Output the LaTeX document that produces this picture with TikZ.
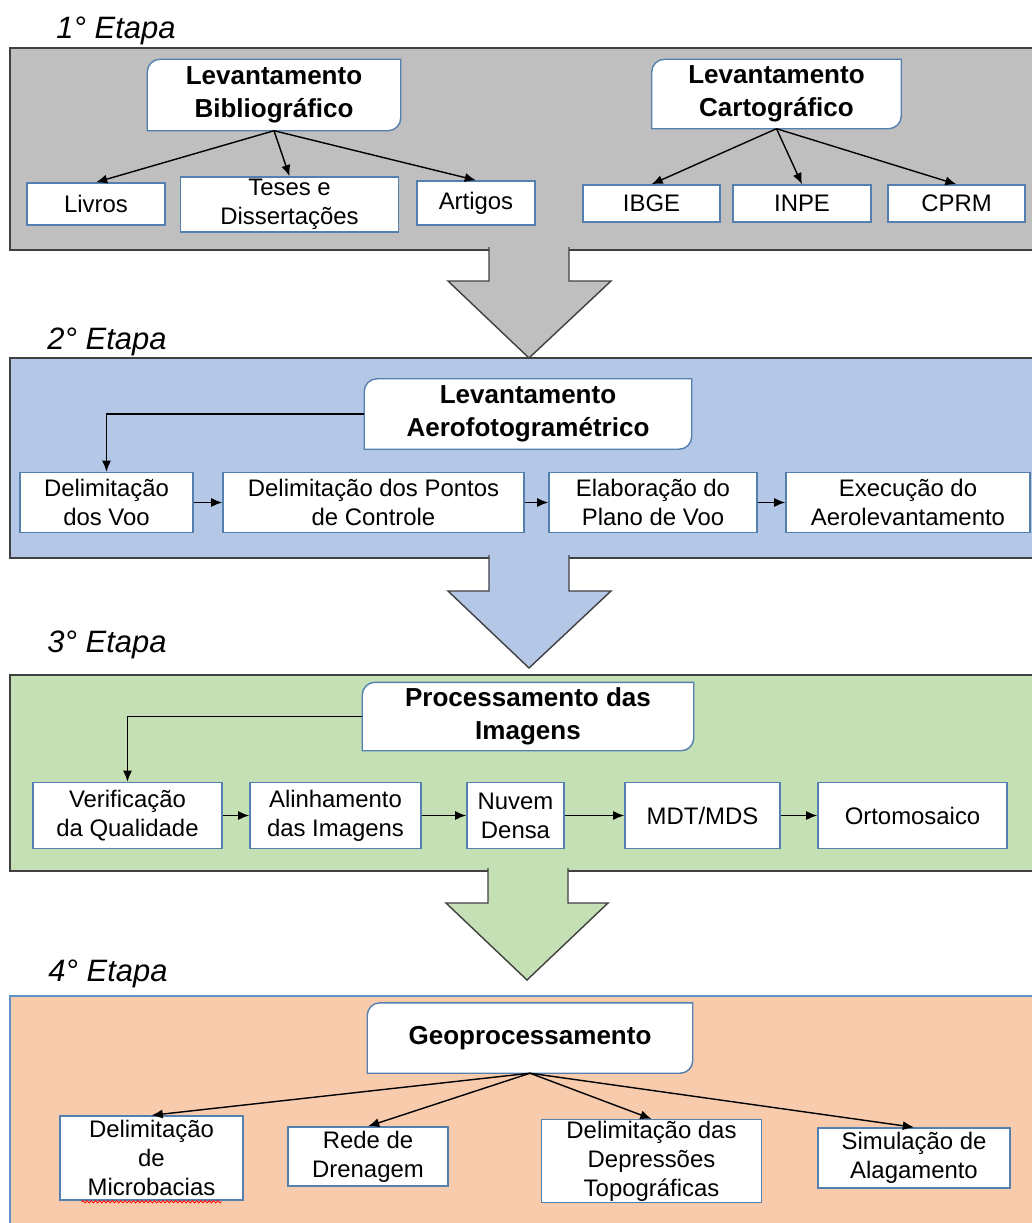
\documentclass[tikz,border=0pt]{standalone}
\usepackage{fontspec}
\setmainfont{Liberation Sans}
\usetikzlibrary{arrows.meta,positioning,backgrounds,calc,decorations.pathmorphing}

\definecolor{grayfill}{RGB}{191,191,191}
\definecolor{bluefill}{RGB}{180,199,231}
\definecolor{greenfill}{RGB}{197,224,180}
\definecolor{orangefill}{RGB}{248,203,173}
\definecolor{panelline}{RGB}{64,64,64}
\definecolor{orangeline}{RGB}{96,146,200}
\definecolor{boxline}{RGB}{84,128,176}

\tikzset{
  leaf/.style={draw=boxline,line width=1pt,fill=white,align=center,inner sep=1pt,
    font=\fontsize{17}{20.5}\selectfont},
  title/.style={align=center,inner sep=1pt,font=\fontsize{18.5}{23.5}\selectfont\bfseries},
  sz/.style 2 args={minimum width=#1cm,minimum height=#2cm},
  stage/.style={font=\fontsize{22}{26}\selectfont\itshape},
  panel/.style={draw=panelline,line width=1.4pt},
  blockarrow/.style={draw=panelline,line width=1pt},
  titleline/.style={draw=boxline,line width=1pt,fill=white},
  spell/.style={red,line width=0.6pt,decorate,decoration={snake,amplitude=0.8pt,segment length=3pt}}
}

\begin{document}
\begin{tikzpicture}[x=0.025cm,y=-0.025cm,>={Latex[length=8pt,width=6.5pt]},line width=1pt]
\useasboundingbox (0,0) rectangle (1032,1223);

% stages and big arrows
\begin{scope}[on background layer]
\filldraw[panel,fill=grayfill]   (10,48) rectangle (1045,250);
\filldraw[blockarrow,fill=grayfill] (489,247) -- (489,281) -- (448,281) -- (529,358) -- (611,281) -- (569,281) -- (569,247);
\filldraw[panel,fill=bluefill]   (10,358) rectangle (1045,558);
\filldraw[blockarrow,fill=bluefill] (489,555) -- (489,591) -- (448,591) -- (529,668) -- (611,591) -- (569,591) -- (569,555);
\filldraw[panel,fill=greenfill]  (10,675) rectangle (1045,871);
\filldraw[blockarrow,fill=greenfill] (488,868) -- (488,903) -- (446,903) -- (527,980) -- (608,903) -- (568,903) -- (568,868);
\filldraw[panel,draw=orangeline,fill=orangefill] (10,996) rectangle (1045,1240);
\end{scope}

\node[stage] (e1) at (116,31)  {1° Etapa};
\node[stage] (e2) at (107,342) {2° Etapa};
\node[stage] (e3) at (107,645) {3° Etapa};
\node[stage] (e4) at (108,974) {4° Etapa};

% 1a etapa
\node[title,sz={6.3}{1.75}]   (bib)   at (274,95)    {Levantamento\\Bibliográfico};
\node[title,sz={6.2}{1.7}]    (carto) at (776.5,94)  {Levantamento\\Cartográfico};
\node[leaf,sz={3.45}{1.05}]   (livros)  at (96,204)    {Livros};
\node[leaf,sz={5.45}{1.375}]  (teses)   at (289.5,204.5) {Teses e\\Dissertações};
\node[leaf,sz={2.95}{1.1}]    (artigos) at (476,203)   {Artigos};
\node[leaf,sz={3.425}{0.925}] (ibge)    at (651.5,203.5) {IBGE};
\node[leaf,sz={3.45}{0.925}]  (inpe)    at (802,203.5) {INPE};
\node[leaf,sz={3.425}{0.925}] (cprm)    at (956.5,203.5) {CPRM};

\path[->] (bib.south) edge (livros.north)
edge (teses.north)
edge (artigos.north)
(carto.south) edge (ibge.north)
edge (inpe.north)
edge (cprm.north);

% 2a etapa
\node[title,sz={8.15}{1.725}] (aero)   at (528,414)   {Levantamento\\Aerofotogramétrico};
\node[leaf,sz={4.325}{1.5}]   (voo)    at (106.5,502.5) {Delimitação\\dos Voo};
\node[leaf,sz={7.525}{1.5}]   (pontos) at (373.5,502.5) {Delimitação dos Pontos\\de Controle};
\node[leaf,sz={5.2}{1.5}]     (plano)  at (653,502.5) {Elaboração do\\Plano de Voo};
\node[leaf,sz={6.1}{1.5}]     (exec)   at (908,502.5) {Execução do\\Aerolevantamento};

\draw[->] (aero.west) -| (voo.north);
\path[->] (voo) edge (pontos)
(pontos) edge (plano)
(plano) edge (exec);

% 3a etapa
\node[title,sz={8.25}{1.675}] (proc)  at (528,716.5) {Processamento das\\Imagens};
\node[leaf,sz={4.725}{1.65}]  (verif) at (127.5,815.5) {Verificação\\da Qualidade};
\node[leaf,sz={4.275}{1.65}]  (alinh) at (335.5,815.5) {Alinhamento\\das Imagens};
\node[leaf,sz={2.425}{1.65}]  (nuvem) at (515.5,815.5) {Nuvem\\Densa};
\node[leaf,sz={3.875}{1.65}]  (mdt)   at (702.5,815.5) {MDT/MDS};
\node[leaf,sz={4.725}{1.65}]  (orto)  at (912.5,815.5) {Ortomosaico};

\draw[->] (proc.west) -| (verif.north);
\path[->] (verif) edge (alinh)
(alinh) edge (nuvem)
(nuvem) edge (mdt)
(mdt) edge (orto);

% 4a etapa
\node[title,sz={8.1}{1.725}]  (geo)   at (530,1038)  {Geoprocessamento};
\node[leaf,sz={4.575}{2.1}]   (micro) at (151.5,1158) {Delimitação\\de\\Microbacias};
\node[leaf,sz={4.0}{1.475}]   (rede)  at (368,1156.5) {Rede de\\Drenagem};
\node[leaf,sz={5.5}{2.05}]    (depr)  at (651.5,1161) {Delimitação das\\Depressões\\Topográficas};
\node[leaf,sz={4.8}{1.5}]     (simul) at (914,1158)   {Simulação de\\Alagamento};

\path[->] (geo.south) edge (micro.north)
edge (rede.north)
edge (depr.north)
edge (simul.north);

\draw[spell] ($(micro.south)+(-70,1)$) -- ($(micro.south)+(70,1)$);

% title boxes, round corners top left and bottom right
\begin{scope}[on background layer]
\foreach \n in {bib,carto,aero,proc,geo}
  \filldraw[titleline] (\n.south west) -- ([yshift=-9pt]\n.north west) to[out=90,in=180] ([xshift=9pt]\n.north west)
    -- (\n.north east) -- ([yshift=9pt]\n.south east) to[out=-90,in=0] ([xshift=-9pt]\n.south east) -- cycle;
\end{scope}

\end{tikzpicture}
\end{document}
